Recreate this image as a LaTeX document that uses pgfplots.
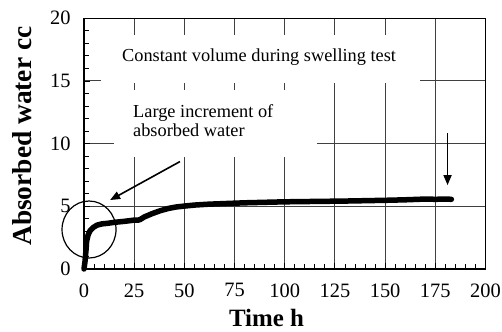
\documentclass[border=0pt]{standalone}
\usepackage{fontspec}
\setmainfont{Liberation Serif}
\usepackage{pgfplots}
\pgfplotsset{compat=1.18}
\usetikzlibrary{arrows.meta}
\begin{document}
\begin{tikzpicture}
\begin{axis}[
  scale only axis, width=401.5bp, height=250.7bp,
  xmin=0, xmax=200, ymin=0, ymax=20,
  xtick={0,25,...,200}, ytick={0,5,...,20},
  minor x tick num=4, minor y tick num=4,
  tick align=inside, xtick pos=left, ytick pos=left,
  major tick length=6bp, minor tick length=5bp,
  xmajorgrids=true, ymajorgrids=true,
  grid style={draw=black!75, line width=1bp},
  axis line style={line width=1.3bp},
  tick style={black, line width=0.9bp},
  xticklabel style={font=\fontsize{20.5}{20.5}\selectfont, yshift=-11bp},
  yticklabel style={font=\fontsize{20.5}{20.5}\selectfont, xshift=-10bp},
  /pgf/number format/assume math mode=true,
  clip=false,
]
\coordinate (o) at (rel axis cs:0,0);
\fill[white] (axis cs:8.5,14.85) rectangle (axis cs:167.3,18.7);
\fill[white] (axis cs:14.9,8.9) rectangle (axis cs:116,14.3);
\node[anchor=base west, inner sep=0pt, font=\fontsize{18.4}{18.4}\selectfont] at (axis cs:18.9,16.54) {Constant volume during swelling test};
\node[anchor=base west, inner sep=0pt, font=\fontsize{18.4}{18.4}\selectfont] at (axis cs:24.4,12.05) {Large increment of};
\node[anchor=base west, inner sep=0pt, font=\fontsize{18.4}{18.4}\selectfont] at (axis cs:24.4,10.55) {absorbed water};
\addplot[black, line width=5.5bp, line join=round, line cap=round] coordinates {
(0,0) (0.5,0.6) (1,1.5) (1.3,2.2) (2,2.7) (3,3.05) (4.5,3.3) (6.5,3.5) (9,3.6)
(12,3.65) (15,3.72) (20,3.8) (25,3.9) (27,3.9) (28,3.95) (30,4.15) (34,4.42)
(38,4.65) (42,4.83) (46,4.95) (50,5.02) (55,5.1) (62,5.17) (70,5.22) (80,5.28)
(90,5.32) (100,5.36) (110,5.38) (120,5.4) (130,5.42) (140,5.45) (150,5.48)
(155,5.5) (160,5.52) (165,5.55) (170,5.58) (175,5.56) (180,5.58) (183,5.56)
};
\draw[line width=1.2bp] (axis cs:2.5,3.15) ellipse [x radius=27bp, y radius=28.5bp];
\draw[-{Triangle[length=10bp,width=8bp]}, line width=1.6bp] (axis cs:47.8,8.57) -- (axis cs:13.0,5.5);
\draw[-{Triangle[length=10bp,width=8bp]}, line width=1.6bp] (axis cs:181.1,10.81) -- (axis cs:181.1,6.69);
\node[anchor=base, inner sep=0pt, font=\bfseries\fontsize{25}{25}\selectfont] at ([yshift=-57.7bp]rel axis cs:0.4545,0) {Time h};
\node[rotate=90, anchor=center, inner sep=0pt, font=\bfseries\fontsize{27.5}{27.5}\selectfont] at ([xshift=-62bp]rel axis cs:0,0.53) {Absorbed water cc};
\end{axis}
\pgfresetboundingbox
\path ([shift={(-84bp,-63bp)}]o) rectangle ++(502bp,332bp);
\end{tikzpicture}
\end{document}
